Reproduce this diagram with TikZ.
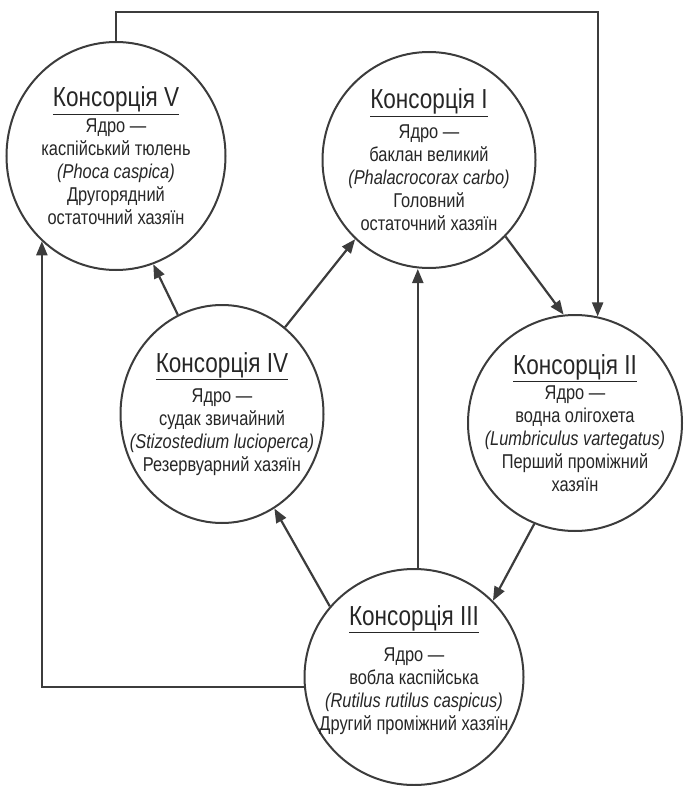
\documentclass[tikz,border=0pt]{standalone}
\usepackage{fontspec}
\setmainfont{Liberation Sans}[FakeStretch=0.82]
\usepackage{tikz}
\usetikzlibrary{shapes.geometric, arrows.meta, calc}
\definecolor{cLine}{RGB}{60,60,60}
\tikzset{
	cons/.style ={ellipse, draw=cLine, line width=2pt, inner sep=0pt},
	ctext/.style={align=center, font=\fontsize{20}{23}\selectfont, text=black!85},
	flow/.style ={-{Triangle[length=14pt, width=11pt]}, line width=2.2pt, draw=cLine},
}
\newcommand{\ctitle}[1]{{\fontsize{27.5}{30}\selectfont\underline{#1}}}

\begin{document}
\begin{tikzpicture}[x=1pt, y=-1pt]
	\useasboundingbox (0,0) rectangle (683,786);
	% consortia
	\node[cons, minimum width=219pt, minimum height=228pt] (V) at (116,156) {};
	\node[cons, minimum width=213pt, minimum height=216pt] (I) at (429,160) {};
	\node[cons, minimum width=203pt, minimum height=218pt] (IV) at (222,414) {};
	\node[cons, minimum width=214pt, minimum height=216pt] (II) at (575,423) {};
	\node[cons, minimum width=219pt, minimum height=216pt] (III) at (414,677) {};
	% texts
	\node[ctext] (Vt) at (V) {\ctitle{Консорція V}\\[3pt] Ядро —\\каспійський тюлень\\\textit{(Phoca caspica)}\\Другорядний\\остаточний хазяїн};
	\node[ctext] (It) at (I) {\ctitle{Консорція I}\\[7pt] Ядро —\\баклан великий\\\textit{(Phalacrocorax carbo)}\\Головний\\остаточний хазяїн};
	\node[ctext] (IVt) at (IV) {\ctitle{Консорція IV}\\[7pt] Ядро —\\судак звичайний\\\textit{(Stizostedium lucioperca)}\\Резервуарний хазяїн};
	\node[ctext] (IIt) at (II) {\ctitle{Консорція II}\\[2pt] Ядро —\\водна олігохета\\\textit{(Lumbriculus vartegatus)}\\Перший проміжний\\хазяїн};
	\node[ctext] (IIIt) at ($(III)+(0,-7)$) {\ctitle{Консорція III}\\[13pt] Ядро —\\вобла каспійська\\\textit{(Rutilus rutilus caspicus)}\\Другий проміжний хазяїн};
	% links
	\draw[flow] (V.north) -- ++(0,-29) -| (II.78);
	\draw[flow] (I.-45) -- (II.96);
	\draw[flow] (II.-112) -- (III.44);
	\draw[flow] (III.140) -- (IV.-61);
	\draw[flow] (III.88) -- (III.88 |- I.south);
	\draw[flow] (IV.114) -- (V.-71);
	\draw[flow] (IV.54) -- (I.-133);
	\draw[flow] (III.185) -| (V.-131);
\end{tikzpicture}
\end{document}
